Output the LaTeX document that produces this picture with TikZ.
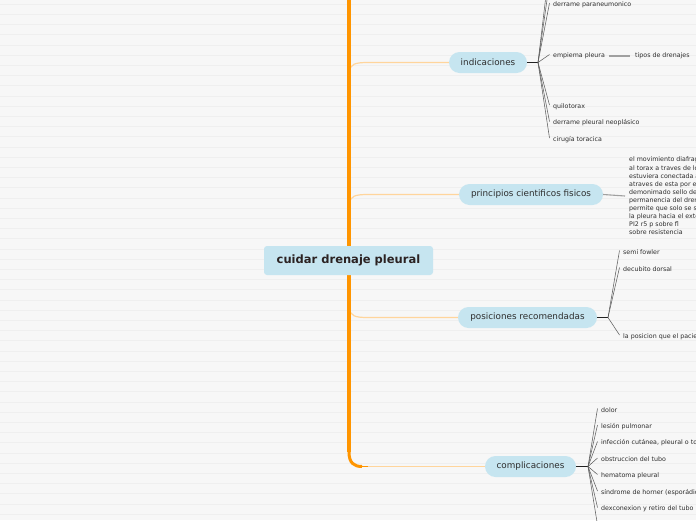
\documentclass[tikz,border=0pt]{standalone}
\usepackage{fontspec}
\setmainfont{DejaVu Sans}
\begin{document}
\begin{tikzpicture}[x=1pt,y=-1pt,
  trunk/.style={draw=trunkc,line width=4pt},
  branch/.style={draw=branchc,line width=1.2pt},
  stem/.style={draw=stemc,line width=1.8pt},
  fan/.style={draw=fanc,line width=0.55pt},
  link/.style={draw=linkc,line width=1.1pt},
  rootbox/.style={fill=nodec,rounded corners=3pt,minimum width=169pt,minimum height=29pt,inner sep=0pt,font=\fontsize{11.5}{13}\selectfont\bfseries,text=roottext},
  topic/.style={fill=nodec,rounded corners=10.5pt,minimum height=21pt,inner sep=0pt,font=\fontsize{8.8}{10}\selectfont,text=txtc},
  leaf/.style={anchor=west,inner sep=0pt,yshift=-1.5pt,font=\fontsize{6.3}{7.5}\selectfont,text=txtc},
]
\definecolor{bgc}{HTML}{F7F7F7}
\definecolor{stripe}{HTML}{EFEFEF}
\definecolor{trunkc}{HTML}{FF9500}
\definecolor{branchc}{HTML}{FFD59C}
\definecolor{stemc}{HTML}{222222}
\definecolor{fanc}{HTML}{606060}
\definecolor{linkc}{HTML}{A0A0A0}
\definecolor{nodec}{HTML}{C6E5F0}
\definecolor{txtc}{HTML}{2E2E2E}
\definecolor{roottext}{HTML}{2B2222}
\useasboundingbox (0,0) rectangle (696,520);
\clip (0,0) rectangle (696,520);
\fill[bgc] (0,0) rectangle (696,520);
\foreach \k in {0,...,51} {\draw[stripe,line width=0.6pt] (0,4+10.2*\k) -- (696,4+10.2*\k);}

% topic nodes
\node[topic,minimum width=78pt] (ind) at (488,62.5) {indicaciones};
\node[topic,minimum width=144pt] (pri) at (531,194.5) {principios cientificos fisicos};
\node[topic,minimum width=139pt] (pos) at (527.5,317.5) {posiciones recomendadas};
\node[topic,minimum width=91pt] (com) at (530.5,466.5) {complicaciones};

% trunk coordinates
\coordinate (ttop) at (349,-5);
\coordinate (tbot) at (349,452);
\coordinate (t1) at (349.5,72);
\coordinate (t1e) at (368,62.5);
\coordinate (t2) at (349.5,204);
\coordinate (t2e) at (368,194.5);
\coordinate (t3) at (349.5,308);
\coordinate (t3e) at (368,317.5);
\coordinate (t4e) at (368,466.5);

% branches
\draw[branch] (t1) .. controls (350,64) and (355,62.5) .. (t1e) -- (ind.west);
\draw[branch] (t2) .. controls (350,196) and (355,194.5) .. (t2e) -- (pri.west);
\draw[branch] (t3) .. controls (350,316) and (355,317.5) .. (t3e) -- (pos.west);
\draw[branch] (t4e) -- (com.west);
\draw[trunk] (ttop) -- (tbot);
\draw[draw=trunkc,line width=3pt] (tbot) .. controls (349,463) and (354,466.5) .. (362,466.5);
\draw[draw=trunkc,line width=1.8pt] (360,466.5) -- (t4e);
% root on top of trunk
\node[rootbox] (root) at (348.5,260.5) {cuidar drenaje pleural};

% indicaciones subtree
\coordinate (jI) at (538,62.5);
\draw[stem] (ind.east) -- (jI);
\node[leaf] (i1) at (553,3) {derrame paraneumonico};
\node[leaf] (i2) at (553,54.5) {empiema pleura};
\node[leaf] (i3) at (553,105) {quilotorax};
\node[leaf] (i4) at (553,121.5) {derrame pleural neoplásico};
\node[leaf] (i5) at (553,138) {cirugía toracica};
\node[leaf] (i6) at (635,54.5) {tipos de drenajes};
\coordinate (ia) at (549,-14);
\coordinate (ib) at (549,-30);
\foreach \c in {i1,i2,i3,i4,i5} {\draw[fan] (jI) -- ([xshift=-3.5pt,yshift=1.5pt]\c.west);}
\draw[fan] (jI) -- (ia);
\draw[fan] (jI) -- (ib);
\draw[link] ([xshift=4pt]i2.east) -- ([xshift=-5pt]i6.west);

% principios subtree
\node[leaf,align=left,font=\fontsize{6.3}{8.1}\selectfont] (p1) at (629,194.5) {el movimiento diafragmatico\\al torax a traves de los tubos\\estuviera conectada al aire\\atraves de esta por el\\demonimado sello de agua\\permanencia del drenaje\\permite que solo se salga\\la pleura hacia el exterior\\PI2 r5 p sobre fl\\sobre resistencia};
\draw[link] (pri.east) -- ([xshift=-4pt]p1.west);

% posiciones subtree
\coordinate (jP) at (608,317.5);
\draw[stem] (pos.east) -- (jP);
\node[leaf] (s1) at (623,250.5) {semi fowler};
\node[leaf] (s2) at (623,267.5) {decubito dorsal};
\node[leaf] (s3) at (623,335) {la posicion que el paciente adopte};
\foreach \c in {s1,s2,s3} {\draw[fan] (jP) -- ([xshift=-3.5pt,yshift=1.5pt]\c.west);}

% complicaciones subtree
\coordinate (jC) at (588,466.5);
\draw[stem] (com.east) -- (jC);
\node[leaf] (c1) at (601,408.5) {dolor};
\node[leaf] (c2) at (601,425) {lesión pulmonar};
\node[leaf] (c3) at (601,441.5) {infección cutánea, pleural o torácica};
\node[leaf] (c4) at (601,458) {obstruccion del tubo};
\node[leaf] (c5) at (601,474.5) {hematoma pleural};
\node[leaf] (c6) at (601,491) {síndrome de horner (esporádico)};
\node[leaf] (c7) at (601,507.5) {dexconexion y retiro del tubo};
\coordinate (c8) at (597.5,525);
\foreach \c in {c1,c2,c3,c4,c5,c6,c7} {\draw[fan] (jC) -- ([xshift=-3.5pt,yshift=1.5pt]\c.west);}
\draw[fan] (jC) -- (c8);
\end{tikzpicture}
\end{document}
